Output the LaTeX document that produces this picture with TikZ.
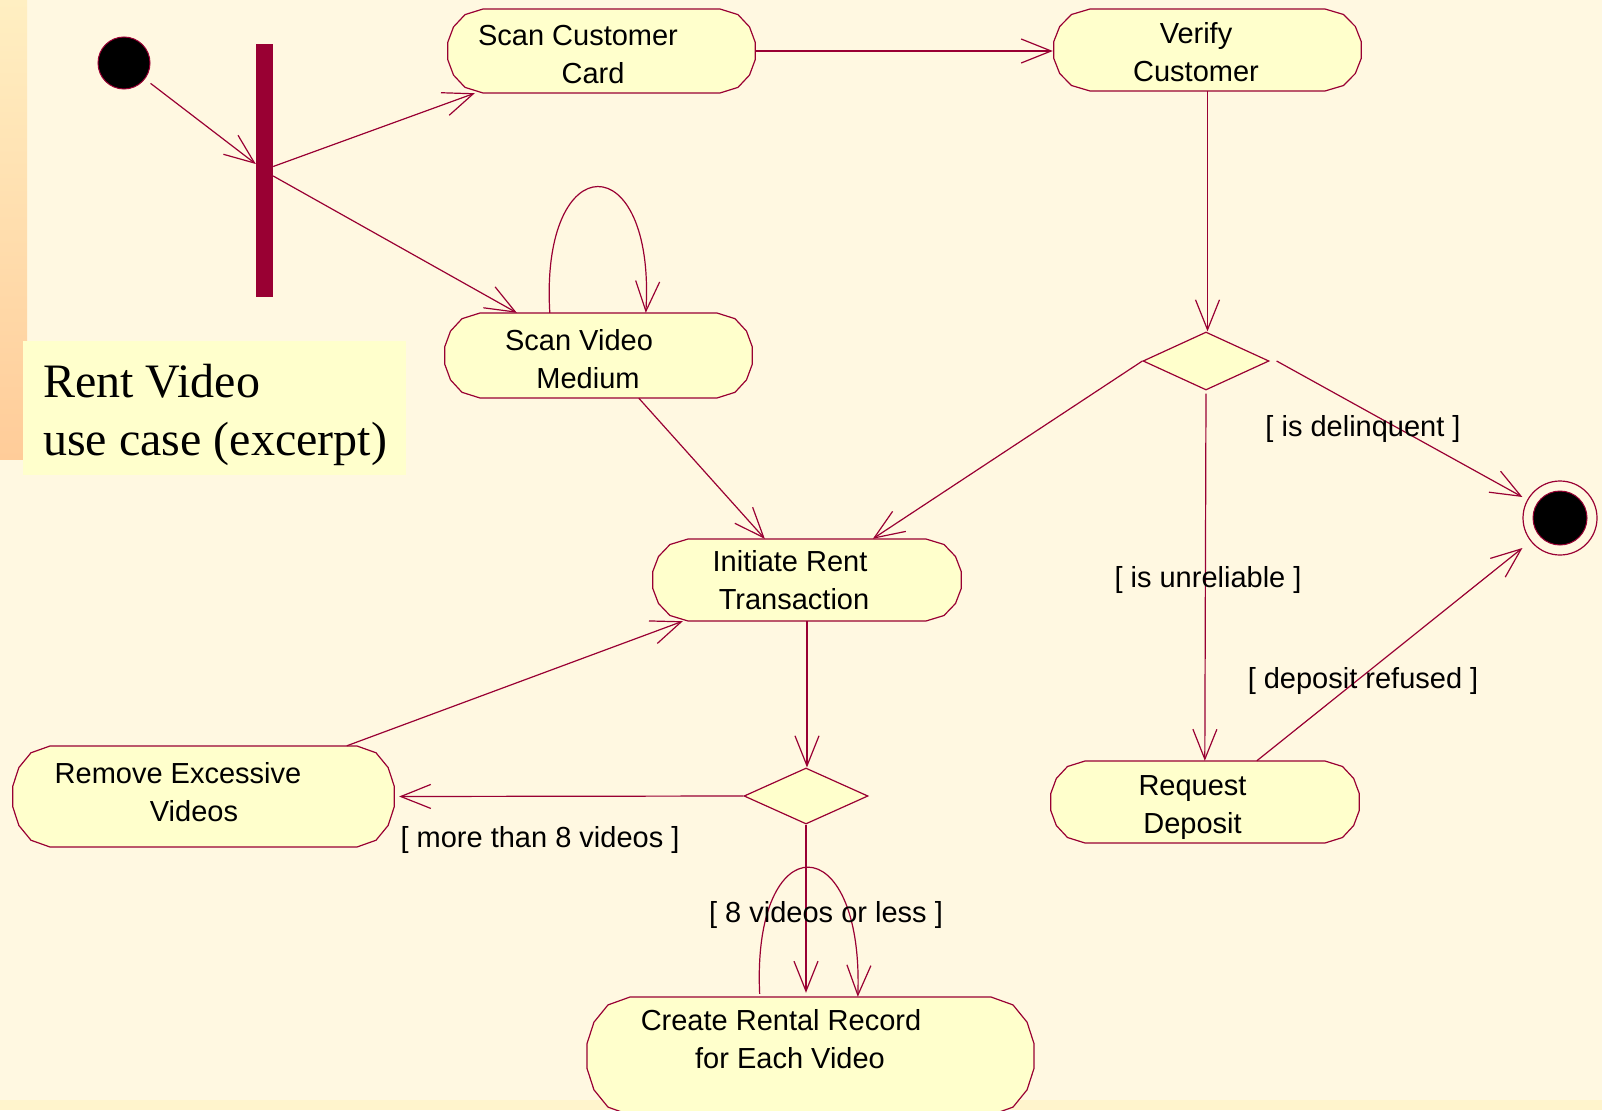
\documentclass[tikz,border=0pt]{standalone}
\usepackage{fontspec}
\setmainfont{Liberation Sans}
\newfontfamily\titlefont{Liberation Serif}
\usetikzlibrary{arrows.meta,shapes.geometric,backgrounds,calc}

\definecolor{paper}{HTML}{FFF8E1}
\definecolor{wine}{HTML}{990033}
\definecolor{actfill}{HTML}{FFFFCC}
\definecolor{stripetop}{HTML}{FFEFC2}
\definecolor{stripebot}{HTML}{FFCC99}
\definecolor{footband}{HTML}{FFF4CC}

% Activity outline: faceted "rounded rectangle" around a named node.
% #1 node name, #2 half width, #3 half height, #4 horizontal extent of the rounded ends
\newcommand\actoutline[4]{%
  \begin{scope}[shift={(#1.center)}]
    \filldraw[actshape] ({#2-#4},{-#3})
      \foreach \t in {60,35,12,-12,-35,-60,-90}{ -- ({#2-#4+#4*cos(\t)},{-#3*sin(\t)}) }
      \foreach \t in {-90,-60,-35,-12,12,35,60,90}{ -- ({-#2+#4-#4*cos(\t)},{-#3*sin(\t)}) }
      -- cycle;
  \end{scope}}
% trailing gap after the first line of a wrapped activity name
\newcommand\trail[1]{\hspace*{#1pt}}

\begin{document}
\begin{tikzpicture}[x=1pt,y=-1pt,
  flow/.style={draw=wine,line width=1.2pt,-{Straight Barb[length=30pt,width=24pt]}},
  activity/.style={rectangle,inner sep=0pt,draw=none},
  acttext/.style={align=center,font=\fontsize{29}{38}\selectfont,inner sep=0pt},
  guard/.style={font=\fontsize{29}{38}\selectfont,inner sep=0pt,anchor=base},
  decision/.style={diamond,draw=wine,line width=1.2pt,fill=actfill,inner sep=0pt},
  actshape/.style={draw=wine,line width=1.2pt,fill=actfill,line join=round},
  titletext/.style={anchor=base west,inner sep=0pt,font=\titlefont\fontsize{48}{58}\selectfont},
]
\useasboundingbox (0,0) rectangle (1602,1110);

% ---- activity states (outlines are drawn on the background layer) ----
\node[activity,minimum width=309pt,minimum height=84pt] (scc) at (601.5,51) {};
\node[activity,minimum width=309pt,minimum height=82pt] (vc)  at (1207.5,50) {};
\node[activity,minimum width=309pt,minimum height=85pt] (svm) at (598.5,355.5) {};
\node[activity,minimum width=310pt,minimum height=82pt] (irt) at (807,580) {};
\node[activity,minimum width=310pt,minimum height=82pt] (rd)  at (1205,802) {};
\node[activity,minimum width=383pt,minimum height=101pt] (rev) at (203.5,796.5) {};
\node[activity,minimum width=449pt,minimum height=118pt] (crr) at (810.5,1056) {};

\node[acttext] (scc-t) at ([xshift=-8.5pt,yshift=-4pt]scc.center) {Scan Customer\trail{30}\\Card};
\node[acttext] (vc-t)  at ([xshift=-11.5pt,yshift=-2.5pt]vc.center) {Verify\\Customer};
\node[acttext] (svm-t) at ([xshift=-10.5pt,yshift=-4pt]svm.center) {Scan Video\trail{18}\\Medium};
\node[acttext] (irt-t) at ([xshift=-13pt]irt.center) {Initiate Rent\trail{8}\\Transaction};
\node[acttext] (rd-t)  at ([xshift=-12.5pt,yshift=-6pt]rd.center) {Request\\Deposit};
\node[acttext] (rev-t) at ([xshift=-9.5pt,yshift=4pt]rev.center) {Remove Excessive\trail{32}\\Videos};
\node[acttext] (crr-t) at ([xshift=-20.5pt,yshift=16.5pt]crr.center) {Create Rental Record\trail{18}\\for Each Video};

% ---- pseudo states, fork bar and decisions ----
\node[circle,fill=black,draw=wine,line width=1pt,minimum size=52pt,inner sep=0pt] (init) at (124,63) {};
\node[rectangle,fill=wine,minimum width=17pt,minimum height=253pt,inner sep=0pt] (fork) at (264.5,170.5) {};
\node[circle,draw=wine,line width=1.2pt,minimum size=74pt,inner sep=0pt] (fin) at (1560,518) {};
\filldraw[fill=black,draw=wine,line width=1pt] (fin.center) circle (27pt);

\node[decision,minimum width=126pt,minimum height=58pt] (d1) at (1206,361) {};
\node[decision,minimum width=124pt,minimum height=56pt] (d2) at (806,796) {};

% ---- transitions ----
\draw[flow,shorten <=7pt] (init) -- ([yshift=6.5pt]fork.west);
\draw[flow] ([yshift=4pt]fork.east) -- ([xshift=28pt]scc.south west);
\draw[flow] ([yshift=-5.5pt]fork.east) -- ([xshift=73pt]svm.north west);
\draw[flow] ([xshift=106pt]svm.north west) .. controls +(-10,-168) and +(10,-168) .. ([xshift=202pt]svm.north west);
\draw[flow] (scc.east) -- (scc.east -| vc.west);
\draw[flow] (vc.south) -- (vc.south |- d1.north);
\draw[flow] (d1.west) -- ([xshift=221pt]irt.north west);
\draw[flow] ([xshift=7pt]d1.east) -- ([yshift=21pt]fin.west);
\draw[flow,shorten <=3pt] (d1.south) -- ([xshift=155pt]rd.north west);
\draw[flow] ([xshift=207pt]rd.north west) -- ([yshift=-30pt]fin.west);
\draw[flow] ([xshift=195pt]svm.south west) -- ([xshift=113pt]irt.north west);
\draw[flow] (irt.south) -- (irt.south |- d2.north);
\draw[flow,shorten >=4pt] (d2.west) -- (rev.east);
\draw[flow] ([xshift=335pt]rev.north west) -- ([xshift=31pt]irt.south west);
\draw[flow,shorten >=4pt] (d2.south) -- (d2.south |- crr.north);
\draw[flow,shorten <=3pt] ([xshift=174pt]crr.north west) .. controls +(-8,-172) and +(6,-172) .. ([xshift=272pt]crr.north west);

% ---- guard conditions ----
\node[guard] (g-delinq) at (1363,436) {[ is delinquent ]};
\node[guard] (g-unrel)  at (1208,587) {[ is unreliable ]};
\node[guard] (g-refuse) at (1363,688) {[ deposit refused ]};
\node[guard] (g-more)   at (540,847)  {[ more than 8 videos ]};
\node[guard] (g-less)   at (826,922)  {[ 8 videos or less ]};

% ---- caption ----
\node[titletext] (cap-a) at (43,397) {Rent Video};
\node[titletext] (cap-b) at (43,455) {use case (excerpt)};

% ---- slide background, caption panel and activity outlines ----
\begin{pgfonlayer}{background}
  \fill[paper] (0,0) rectangle (1602,1110);
  \shade[top color=stripetop,bottom color=stripebot] (0,0) rectangle (27,459);
  \fill[footband] (0,1100) rectangle (1602,1110);
  \fill[actfill] (23,341) rectangle (406,475);
  \actoutline{scc}{154.5}{42}{36}
  \actoutline{vc}{154.5}{41}{37}
  \actoutline{svm}{154.5}{42.5}{36}
  \actoutline{irt}{155}{41}{36}
  \actoutline{rd}{155}{41}{35}
  \actoutline{rev}{191.5}{50.5}{38}
  \actoutline{crr}{224.5}{59}{44}
\end{pgfonlayer}
\end{tikzpicture}
\end{document}
